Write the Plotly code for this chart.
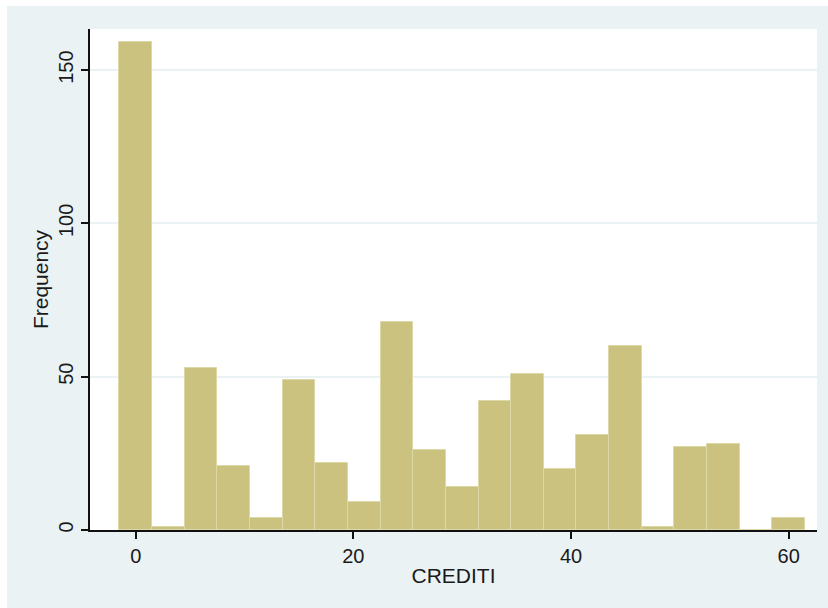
import plotly.graph_objects as go

bin_centers = [0, 3, 6, 9, 12, 15, 18, 21, 24, 27, 30, 33, 36, 39, 42, 45, 48, 51, 54, 57, 60]
frequency = [159, 1, 53, 21, 4, 49, 22, 9, 68, 26, 14, 42, 51, 20, 31, 60, 1, 27, 28, 0, 4]
bin_width = 3
x_ticks = [0, 20, 40, 60]
y_ticks = [0, 50, 100, 150]

BG = "#EAF2F3"
FONT = "Liberation Sans, Arial, sans-serif"

fig = go.Figure()
fig.add_trace(go.Bar(
    x=bin_centers, y=frequency, width=[bin_width] * len(bin_centers),
    marker=dict(color="#CBC280", line=dict(color="#DDD8A8", width=1)),
    hoverinfo="x+y", showlegend=False,
))

fig.update_layout(
    width=828, height=608,
    margin=dict(l=90, r=11, t=29, b=78),
    paper_bgcolor=BG, plot_bgcolor="white",
    font=dict(family=FONT, size=21, color="#1a1a1a"),
    bargap=0,
    shapes=[
        dict(type="rect", xref="paper", yref="paper", x0=-0.2, x1=1.1,
             y0=1.0459, y1=1.2, fillcolor="white", line=dict(width=0), layer="above"),
        dict(type="rect", xref="paper", yref="paper", x0=-0.2, x1=-0.1142,
             y0=-0.3, y1=1.2, fillcolor="white", line=dict(width=0), layer="above"),
    ],
)
fig.update_xaxes(
    range=[-4.2, 62.6], tickvals=x_ticks, ticktext=[str(v) for v in x_ticks],
    showgrid=False, zeroline=False, showline=True, linecolor="#111", linewidth=2,
    ticks="outside", ticklen=7, tickwidth=2, tickcolor="#111",
    tickfont=dict(size=20),
    title=dict(text="CREDITI", standoff=2, font=dict(size=21)),
)
fig.update_yaxes(
    range=[0, 163.4], tickvals=y_ticks, ticktext=[str(v) for v in y_ticks],
    tickangle=-90, showgrid=True, gridcolor=BG, gridwidth=2,
    zeroline=False, showline=True, linecolor="#111", linewidth=2,
    ticks="outside", ticklen=7, tickwidth=2, tickcolor="#111",
    tickfont=dict(size=20),
    title=dict(text="Frequency", standoff=1, font=dict(size=21)),
)

fig.write_html("out.html")
